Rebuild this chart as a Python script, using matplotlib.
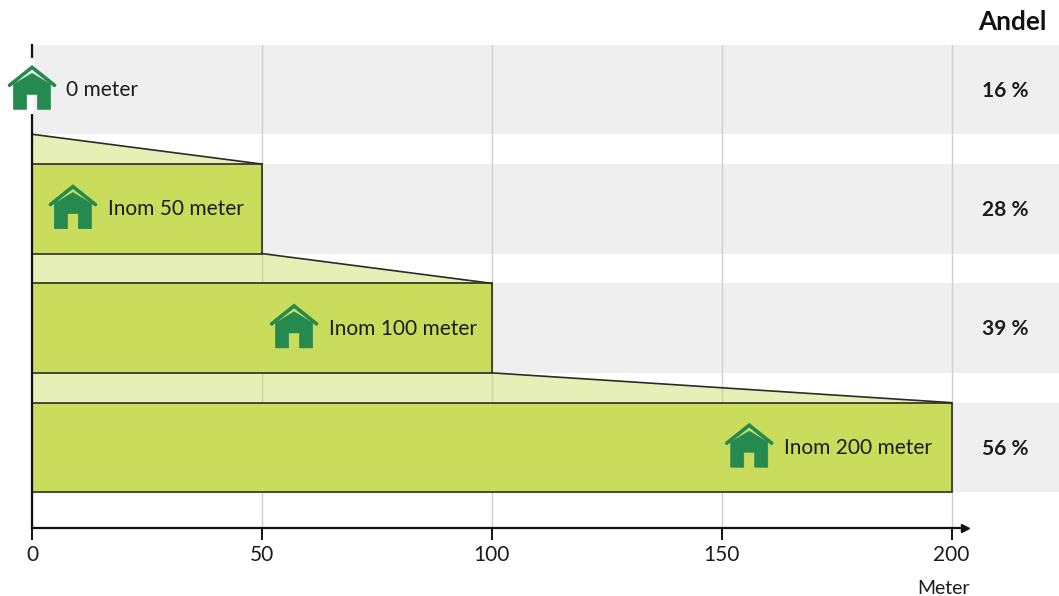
import matplotlib.pyplot as plt
from matplotlib.patches import Polygon
from matplotlib.transforms import Affine2D

distances = [0, 50, 100, 200]
shares = [16, 28, 39, 56]
labels = ['0 meter', 'Inom 50 meter', 'Inom 100 meter', 'Inom 200 meter']
x_ticks = [0, 50, 100, 150, 200]

plt.rcParams['font.family'] = ['Lato', 'DejaVu Sans']

W, H = 1059, 596
BAND = '#efefef'
BAR = '#c9dc5c'
HOUSE = '#258a50'
DARK = '#2b2b2b'
TEXT = '#1c1c1c'

fig = plt.figure(figsize=(W / 100, H / 100), dpi=100)
# axes run from the top of the first band down to the x axis line
ax = fig.add_axes([32 / W, (H - 528) / H, (W - 32) / W, (528 - 45) / H])
px_per_m = 919.5 / 200
row_px = 119.3
ax.set_xlim(0, (W - 32) / px_per_m)
ax.set_ylim((528 - 89.5) / row_px, (45 - 89.5) / row_px)
bar_h = 89.5 / row_px
half = bar_h / 2

for s in ['top', 'right']:
    ax.spines[s].set_visible(False)
ax.spines['left'].set_linewidth(1.6)
ax.spines['left'].set_color('#111111')
ax.spines['bottom'].set_linewidth(1.6)
ax.spines['bottom'].set_color('#111111')
ax.spines['bottom'].set_bounds(0, 202)

ax.set_axisbelow(True)
ax.grid(axis='x', color='#cfcfcf', lw=1)
ax.set_xticks(x_ticks)
ax.set_yticks([])
ax.tick_params(axis='x', length=8.5, width=1.4, color='#111111', labelsize=15,
               labelcolor=TEXT, pad=4)

# grey bands across the whole width
for row in range(len(distances)):
    ax.barh(row, ax.get_xlim()[1], height=bar_h, color=BAND, zorder=0.1, lw=0)

# green bars and the light wedges between them
for row, dist in enumerate(distances):
    if dist == 0:
        continue
    ax.barh(row, dist, height=bar_h, color=BAR, edgecolor=DARK, lw=1.2, zorder=2)
    prev = distances[row - 1]
    top = row - half
    prev_bottom = row - 1 + half
    ax.add_patch(Polygon([(0, prev_bottom), (prev, prev_bottom), (dist, top), (0, top)],
                         closed=True, color=BAR, alpha=0.45, lw=0, zorder=1.5))
    ax.plot([prev, dist], [prev_bottom, top], color=DARK, lw=1.2, zorder=2.2)


def draw_house(x, y):
    # house icon, sized in pixels around a data position
    cx, cy = ax.transData.transform((x, y))
    tr = Affine2D().scale(1, -1).translate(cx, cy)
    body = [(-18.5, -4), (0, -15), (18.5, -4), (18.5, 21), (5.5, 21), (5.5, 6), (-5.5, 6), (-5.5, 21), (-18.5, 21)]
    ax.add_patch(Polygon(body, closed=True, color=HOUSE, lw=0.5, transform=tr,
                         clip_on=False, zorder=4))
    roof = Polygon([(-22.5, -3), (0, -21), (22.5, -3)], closed=False, fill=False,
                   edgecolor=HOUSE, lw=2.6, joinstyle='miter', capstyle='round',
                   transform=tr, clip_on=False, zorder=4)
    ax.add_patch(roof)


# gap in the y axis behind the first house
ax.plot([0, 0], [-0.247, 0.188], color='white', lw=3, zorder=3, clip_on=False)

house_x = [0, 8.9, 57, 156]
label_x = [7.4, 16.5, 64.6, 163.6]
for row, lab in enumerate(labels):
    draw_house(house_x[row], row - 0.01)
    ax.text(label_x[row], row + 0.005, lab, fontsize=15, color=TEXT, va='center', ha='left', zorder=5)
    ax.text(211.6, row + 0.01, f'{shares[row]} %', fontsize=15, fontweight='bold',
            color=TEXT, va='center', ha='center', zorder=5)

# arrow head on the x axis
ax.plot([202.9], [0], marker='>', ms=6, color='#111111', transform=ax.get_xaxis_transform(),
        clip_on=False, zorder=5)

fig.text(1047 / W, (H - 22) / H, 'Andel', fontsize=18.8, fontweight='bold', color='#111111',
         ha='right', va='center')
fig.text(970 / W, (H - 589) / H, 'Meter', fontsize=14, color=TEXT, ha='right', va='center')

fig.savefig('out.png', dpi=100)
